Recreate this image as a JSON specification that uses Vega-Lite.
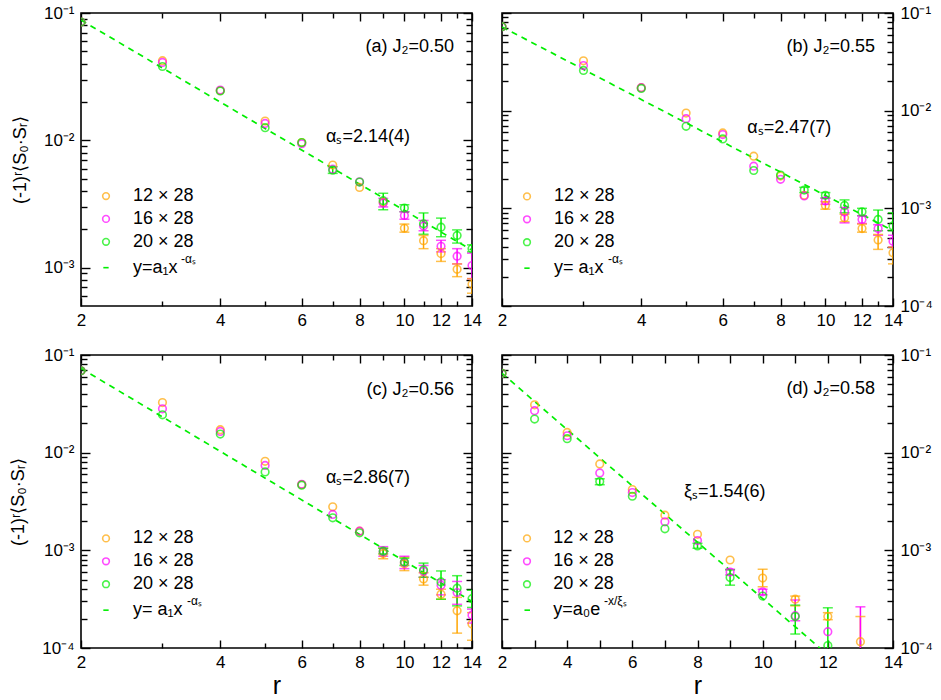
{
  "$schema": "https://vega.github.io/schema/vega-lite/v6.json",
  "padding": {"left": 8, "top": 3, "right": 4, "bottom": 4},
  "config": {
    "font": "Liberation Sans",
    "view": {"stroke": "black", "strokeWidth": 1.6},
    "range": {"category": ["#ffa500", "#ff00ff", "#00ee00"]},
    "legend": {"disable": true},
    "axis": {
      "domain": false, "grid": false, "tickColor": "black", "tickWidth": 1.4,
      "labelColor": "black", "labelFontSize": 17, "labelFlush": false, "labelOverlap": false,
      "labelBound": false, "titleFontWeight": "normal", "titleColor": "black", "zindex": 1
    },
    "text": {"fontSize": 18, "color": "black", "baseline": "middle"}
  },
  "datasets": {
    "fit": [
      {"p": "a", "r": 2, "v": 0.088}, {"p": "a", "r": 14, "v": 0.00137},
      {"p": "b", "r": 2, "v": 0.072}, {"p": "b", "r": 14, "v": 0.00059},
      {"p": "c", "r": 2, "v": 0.073}, {"p": "c", "r": 14, "v": 0.0003},
      {"p": "d", "r": 2, "v": 0.065}, {"p": "d", "r": 14, "v": 0.0000225}
    ],
    "pts": [
      {"p": "a", "s": "12 × 28", "r": 2, "v": 0.085},
      {"p": "a", "s": "12 × 28", "r": 3, "v": 0.0422},
      {"p": "a", "s": "12 × 28", "r": 4, "v": 0.0246},
      {"p": "a", "s": "12 × 28", "r": 5, "v": 0.01416},
      {"p": "a", "s": "12 × 28", "r": 6, "v": 0.0096},
      {"p": "a", "s": "12 × 28", "r": 7, "v": 0.0064},
      {"p": "a", "s": "12 × 28", "r": 8, "v": 0.00427},
      {"p": "a", "s": "12 × 28", "r": 9, "v": 0.00326},
      {"p": "a", "s": "12 × 28", "r": 10, "v": 0.00204, "lo": 0.0019, "hi": 0.0022},
      {"p": "a", "s": "12 × 28", "r": 11, "v": 0.00163, "lo": 0.00141, "hi": 0.00179},
      {"p": "a", "s": "12 × 28", "r": 12, "v": 0.00129, "lo": 0.00112, "hi": 0.00141},
      {"p": "a", "s": "12 × 28", "r": 13, "v": 0.00097, "lo": 0.00085, "hi": 0.00107},
      {"p": "a", "s": "12 × 28", "r": 14, "v": 0.00074, "lo": 0.00063, "hi": 0.00082},
      {"p": "a", "s": "16 × 28", "r": 2, "v": 0.085},
      {"p": "a", "s": "16 × 28", "r": 3, "v": 0.0409},
      {"p": "a", "s": "16 × 28", "r": 4, "v": 0.0248},
      {"p": "a", "s": "16 × 28", "r": 5, "v": 0.01358},
      {"p": "a", "s": "16 × 28", "r": 6, "v": 0.0094},
      {"p": "a", "s": "16 × 28", "r": 7, "v": 0.00593},
      {"p": "a", "s": "16 × 28", "r": 8, "v": 0.00472},
      {"p": "a", "s": "16 × 28", "r": 9, "v": 0.00322, "lo": 0.003, "hi": 0.0035},
      {"p": "a", "s": "16 × 28", "r": 10, "v": 0.00257, "lo": 0.0024, "hi": 0.00275},
      {"p": "a", "s": "16 × 28", "r": 11, "v": 0.00212, "lo": 0.00195, "hi": 0.00235},
      {"p": "a", "s": "16 × 28", "r": 12, "v": 0.00147, "lo": 0.00133, "hi": 0.00164},
      {"p": "a", "s": "16 × 28", "r": 13, "v": 0.00123, "lo": 0.00107, "hi": 0.00141},
      {"p": "a", "s": "16 × 28", "r": 14, "v": 0.00104, "lo": 0.00082, "hi": 0.0013},
      {"p": "a", "s": "20 × 28", "r": 2, "v": 0.085},
      {"p": "a", "s": "20 × 28", "r": 3, "v": 0.038},
      {"p": "a", "s": "20 × 28", "r": 4, "v": 0.0244},
      {"p": "a", "s": "20 × 28", "r": 5, "v": 0.01256},
      {"p": "a", "s": "20 × 28", "r": 6, "v": 0.0096},
      {"p": "a", "s": "20 × 28", "r": 7, "v": 0.00583, "lo": 0.0055, "hi": 0.0062},
      {"p": "a", "s": "20 × 28", "r": 8, "v": 0.0047},
      {"p": "a", "s": "20 × 28", "r": 9, "v": 0.00336, "lo": 0.00285, "hi": 0.00384},
      {"p": "a", "s": "20 × 28", "r": 10, "v": 0.00294, "lo": 0.00275, "hi": 0.00312},
      {"p": "a", "s": "20 × 28", "r": 11, "v": 0.00221, "lo": 0.00183, "hi": 0.00269},
      {"p": "a", "s": "20 × 28", "r": 12, "v": 0.00208, "lo": 0.00175, "hi": 0.00245},
      {"p": "a", "s": "20 × 28", "r": 13, "v": 0.00179, "lo": 0.00156, "hi": 0.00198},
      {"p": "a", "s": "20 × 28", "r": 14, "v": 0.00141, "lo": 0.00133, "hi": 0.00151},

      {"p": "b", "s": "12 × 28", "r": 2, "v": 0.0724},
      {"p": "b", "s": "12 × 28", "r": 3, "v": 0.0324},
      {"p": "b", "s": "12 × 28", "r": 4, "v": 0.0172},
      {"p": "b", "s": "12 × 28", "r": 5, "v": 0.00946},
      {"p": "b", "s": "12 × 28", "r": 6, "v": 0.00591},
      {"p": "b", "s": "12 × 28", "r": 7, "v": 0.00342},
      {"p": "b", "s": "12 × 28", "r": 8, "v": 0.00214},
      {"p": "b", "s": "12 × 28", "r": 9, "v": 0.00136},
      {"p": "b", "s": "12 × 28", "r": 10, "v": 0.00107, "lo": 0.00098, "hi": 0.00117},
      {"p": "b", "s": "12 × 28", "r": 11, "v": 0.0008, "lo": 0.00073, "hi": 0.00087},
      {"p": "b", "s": "12 × 28", "r": 12, "v": 0.00062, "lo": 0.00057, "hi": 0.00069},
      {"p": "b", "s": "12 × 28", "r": 13, "v": 0.000475, "lo": 0.00038, "hi": 0.00054},
      {"p": "b", "s": "12 × 28", "r": 14, "v": 0.00035, "lo": 0.00027, "hi": 0.0004},
      {"p": "b", "s": "16 × 28", "r": 2, "v": 0.0724},
      {"p": "b", "s": "16 × 28", "r": 3, "v": 0.029},
      {"p": "b", "s": "16 × 28", "r": 4, "v": 0.0172},
      {"p": "b", "s": "16 × 28", "r": 5, "v": 0.00828},
      {"p": "b", "s": "16 × 28", "r": 6, "v": 0.00569},
      {"p": "b", "s": "16 × 28", "r": 7, "v": 0.0027},
      {"p": "b", "s": "16 × 28", "r": 8, "v": 0.00198},
      {"p": "b", "s": "16 × 28", "r": 9, "v": 0.00134},
      {"p": "b", "s": "16 × 28", "r": 10, "v": 0.00119, "lo": 0.0011, "hi": 0.00128},
      {"p": "b", "s": "16 × 28", "r": 11, "v": 0.00092, "lo": 0.00071, "hi": 0.00102},
      {"p": "b", "s": "16 × 28", "r": 12, "v": 0.00077, "lo": 0.0007, "hi": 0.00084},
      {"p": "b", "s": "16 × 28", "r": 13, "v": 0.00062, "lo": 0.00053, "hi": 0.00068},
      {"p": "b", "s": "16 × 28", "r": 14, "v": 0.00046, "lo": 0.0004, "hi": 0.00053},
      {"p": "b", "s": "20 × 28", "r": 2, "v": 0.0724},
      {"p": "b", "s": "20 × 28", "r": 3, "v": 0.0258},
      {"p": "b", "s": "20 × 28", "r": 4, "v": 0.0169},
      {"p": "b", "s": "20 × 28", "r": 5, "v": 0.00692},
      {"p": "b", "s": "20 × 28", "r": 6, "v": 0.00514},
      {"p": "b", "s": "20 × 28", "r": 7, "v": 0.00244},
      {"p": "b", "s": "20 × 28", "r": 8, "v": 0.00219},
      {"p": "b", "s": "20 × 28", "r": 9, "v": 0.00154, "lo": 0.00145, "hi": 0.00164},
      {"p": "b", "s": "20 × 28", "r": 10, "v": 0.00136, "lo": 0.00127, "hi": 0.00145},
      {"p": "b", "s": "20 × 28", "r": 11, "v": 0.00107, "lo": 0.0009, "hi": 0.00122},
      {"p": "b", "s": "20 × 28", "r": 12, "v": 0.00092, "lo": 0.00084, "hi": 0.001},
      {"p": "b", "s": "20 × 28", "r": 13, "v": 0.00077, "lo": 0.00059, "hi": 0.00096},
      {"p": "b", "s": "20 × 28", "r": 14, "v": 0.00066, "lo": 0.00059, "hi": 0.0009},

      {"p": "c", "s": "12 × 28", "r": 2, "v": 0.069},
      {"p": "c", "s": "12 × 28", "r": 3, "v": 0.0326},
      {"p": "c", "s": "12 × 28", "r": 4, "v": 0.0172},
      {"p": "c", "s": "12 × 28", "r": 5, "v": 0.00815},
      {"p": "c", "s": "12 × 28", "r": 6, "v": 0.00471},
      {"p": "c", "s": "12 × 28", "r": 7, "v": 0.00279},
      {"p": "c", "s": "12 × 28", "r": 8, "v": 0.00157},
      {"p": "c", "s": "12 × 28", "r": 9, "v": 0.00093, "lo": 0.00082, "hi": 0.00105},
      {"p": "c", "s": "12 × 28", "r": 10, "v": 0.00073, "lo": 0.00062, "hi": 0.00085},
      {"p": "c", "s": "12 × 28", "r": 11, "v": 0.00051, "lo": 0.00044, "hi": 0.00059},
      {"p": "c", "s": "12 × 28", "r": 12, "v": 0.000356, "lo": 0.000316, "hi": 0.0004},
      {"p": "c", "s": "12 × 28", "r": 13, "v": 0.00024, "lo": 0.000142, "hi": 0.00033},
      {"p": "c", "s": "12 × 28", "r": 14, "v": 0.000176, "lo": 0.00012, "hi": 0.00023},
      {"p": "c", "s": "16 × 28", "r": 2, "v": 0.069},
      {"p": "c", "s": "16 × 28", "r": 3, "v": 0.0281},
      {"p": "c", "s": "16 × 28", "r": 4, "v": 0.0165},
      {"p": "c", "s": "16 × 28", "r": 5, "v": 0.0074},
      {"p": "c", "s": "16 × 28", "r": 6, "v": 0.00475},
      {"p": "c", "s": "16 × 28", "r": 7, "v": 0.00233},
      {"p": "c", "s": "16 × 28", "r": 8, "v": 0.00157},
      {"p": "c", "s": "16 × 28", "r": 9, "v": 0.00097, "lo": 0.00087, "hi": 0.00109},
      {"p": "c", "s": "16 × 28", "r": 10, "v": 0.00075, "lo": 0.00065, "hi": 0.00087},
      {"p": "c", "s": "16 × 28", "r": 11, "v": 0.00061, "lo": 0.00053, "hi": 0.0007},
      {"p": "c", "s": "16 × 28", "r": 12, "v": 0.00044, "lo": 0.00035, "hi": 0.0005},
      {"p": "c", "s": "16 × 28", "r": 13, "v": 0.00037, "lo": 0.00028, "hi": 0.00048},
      {"p": "c", "s": "16 × 28", "r": 14, "v": 0.000217, "lo": 0.00018, "hi": 0.00025},
      {"p": "c", "s": "20 × 28", "r": 2, "v": 0.069},
      {"p": "c", "s": "20 × 28", "r": 3, "v": 0.0244},
      {"p": "c", "s": "20 × 28", "r": 4, "v": 0.0155},
      {"p": "c", "s": "20 × 28", "r": 5, "v": 0.00635},
      {"p": "c", "s": "20 × 28", "r": 6, "v": 0.00465},
      {"p": "c", "s": "20 × 28", "r": 7, "v": 0.00215},
      {"p": "c", "s": "20 × 28", "r": 8, "v": 0.00151},
      {"p": "c", "s": "20 × 28", "r": 9, "v": 0.00098, "lo": 0.00092, "hi": 0.00105},
      {"p": "c", "s": "20 × 28", "r": 10, "v": 0.00076, "lo": 0.0007, "hi": 0.00083},
      {"p": "c", "s": "20 × 28", "r": 11, "v": 0.00063, "lo": 0.00053, "hi": 0.00074},
      {"p": "c", "s": "20 × 28", "r": 12, "v": 0.000475, "lo": 0.000316, "hi": 0.000615},
      {"p": "c", "s": "20 × 28", "r": 13, "v": 0.00041, "lo": 0.00027, "hi": 0.00055},
      {"p": "c", "s": "20 × 28", "r": 14, "v": 0.00032, "lo": 0.00026, "hi": 0.00039},

      {"p": "d", "s": "12 × 28", "r": 2, "v": 0.065},
      {"p": "d", "s": "12 × 28", "r": 3, "v": 0.0309},
      {"p": "d", "s": "12 × 28", "r": 4, "v": 0.0161},
      {"p": "d", "s": "12 × 28", "r": 5, "v": 0.00766},
      {"p": "d", "s": "12 × 28", "r": 6, "v": 0.00419},
      {"p": "d", "s": "12 × 28", "r": 7, "v": 0.00229},
      {"p": "d", "s": "12 × 28", "r": 8, "v": 0.00146},
      {"p": "d", "s": "12 × 28", "r": 9, "v": 0.000796},
      {"p": "d", "s": "12 × 28", "r": 10, "v": 0.00052, "lo": 0.000425, "hi": 0.00064},
      {"p": "d", "s": "12 × 28", "r": 11, "v": 0.000316, "lo": 0.00027, "hi": 0.00034},
      {"p": "d", "s": "12 × 28", "r": 12, "v": 0.00021, "lo": 0.000195, "hi": 0.00023},
      {"p": "d", "s": "12 × 28", "r": 13, "v": 0.000116, "lo": 0.00005, "hi": 0.00021},
      {"p": "d", "s": "16 × 28", "r": 2, "v": 0.065},
      {"p": "d", "s": "16 × 28", "r": 3, "v": 0.0269},
      {"p": "d", "s": "16 × 28", "r": 4, "v": 0.0149},
      {"p": "d", "s": "16 × 28", "r": 5, "v": 0.0062},
      {"p": "d", "s": "16 × 28", "r": 6, "v": 0.0039},
      {"p": "d", "s": "16 × 28", "r": 7, "v": 0.00196},
      {"p": "d", "s": "16 × 28", "r": 8, "v": 0.00126},
      {"p": "d", "s": "16 × 28", "r": 9, "v": 0.0006, "lo": 0.00056, "hi": 0.00064},
      {"p": "d", "s": "16 × 28", "r": 10, "v": 0.000376, "lo": 0.00035, "hi": 0.0004},
      {"p": "d", "s": "16 × 28", "r": 11, "v": 0.000214, "lo": 0.00019, "hi": 0.00031},
      {"p": "d", "s": "16 × 28", "r": 12, "v": 0.000147},
      {"p": "d", "s": "16 × 28", "r": 13, "v": 0.00006, "lo": 0.00001, "hi": 0.000264},
      {"p": "d", "s": "20 × 28", "r": 2, "v": 0.065},
      {"p": "d", "s": "20 × 28", "r": 3, "v": 0.0221},
      {"p": "d", "s": "20 × 28", "r": 4, "v": 0.0139},
      {"p": "d", "s": "20 × 28", "r": 5, "v": 0.00506, "lo": 0.0047, "hi": 0.0054},
      {"p": "d", "s": "20 × 28", "r": 6, "v": 0.00358},
      {"p": "d", "s": "20 × 28", "r": 7, "v": 0.00166},
      {"p": "d", "s": "20 × 28", "r": 8, "v": 0.00111, "lo": 0.00105, "hi": 0.00118},
      {"p": "d", "s": "20 × 28", "r": 9, "v": 0.000526, "lo": 0.00044, "hi": 0.00063},
      {"p": "d", "s": "20 × 28", "r": 10, "v": 0.00034},
      {"p": "d", "s": "20 × 28", "r": 11, "v": 0.00021, "lo": 0.000139, "hi": 0.000275},
      {"p": "d", "s": "20 × 28", "r": 12, "v": 0.000106, "lo": 0.00004, "hi": 0.000258}
    ],
    "ann": [
      {"p": "a", "k": "c", "s": "12 × 28", "r": 2.265, "v": 0.00365},
      {"p": "a", "k": "c", "s": "16 × 28", "r": 2.265, "v": 0.002415},
      {"p": "a", "k": "c", "s": "20 × 28", "r": 2.265, "v": 0.001596},
      {"p": "a", "k": "d", "r": 2.235, "r2": 2.295, "v": 0.001},
      {"p": "a", "k": "t", "r": 2.59, "v": 0.00365, "t": "12 × 28"},
      {"p": "a", "k": "t", "r": 2.59, "v": 0.002415, "t": "16 × 28"},
      {"p": "a", "k": "t", "r": 2.59, "v": 0.001596, "t": "20 × 28"},
      {"p": "a", "k": "t", "r": 2.59, "v": 0.001, "t": "y=a₁x"},
      {"p": "a", "k": "s", "r": 3.29, "v": 0.001, "t": "-αₛ"},
      {"p": "a", "k": "R", "r": 12.8, "v": 0.05425, "t": "(a) J₂=0.50"},
      {"p": "a", "k": "t", "r": 6.77, "v": 0.01055, "t": "αₛ=2.14(4)"},

      {"p": "b", "k": "c", "s": "12 × 28", "r": 2.265, "v": 0.001324},
      {"p": "b", "k": "c", "s": "16 × 28", "r": 2.265, "v": 0.000772},
      {"p": "b", "k": "c", "s": "20 × 28", "r": 2.265, "v": 0.00045},
      {"p": "b", "k": "d", "r": 2.235, "r2": 2.295, "v": 0.000244},
      {"p": "b", "k": "t", "r": 2.59, "v": 0.001324, "t": "12 × 28"},
      {"p": "b", "k": "t", "r": 2.59, "v": 0.000772, "t": "16 × 28"},
      {"p": "b", "k": "t", "r": 2.59, "v": 0.00045, "t": "20 × 28"},
      {"p": "b", "k": "t", "r": 2.59, "v": 0.000244, "t": "y= a₁x"},
      {"p": "b", "k": "s", "r": 3.39, "v": 0.000244, "t": "-αₛ"},
      {"p": "b", "k": "R", "r": 12.8, "v": 0.045, "t": "(b) J₂=0.55"},
      {"p": "b", "k": "t", "r": 6.78, "v": 0.00671, "t": "αₛ=2.47(7)"},

      {"p": "c", "k": "c", "s": "12 × 28", "r": 2.265, "v": 0.001324},
      {"p": "c", "k": "c", "s": "16 × 28", "r": 2.265, "v": 0.000772},
      {"p": "c", "k": "c", "s": "20 × 28", "r": 2.265, "v": 0.00045},
      {"p": "c", "k": "d", "r": 2.235, "r2": 2.295, "v": 0.000244},
      {"p": "c", "k": "t", "r": 2.59, "v": 0.001324, "t": "12 × 28"},
      {"p": "c", "k": "t", "r": 2.59, "v": 0.000772, "t": "16 × 28"},
      {"p": "c", "k": "t", "r": 2.59, "v": 0.00045, "t": "20 × 28"},
      {"p": "c", "k": "t", "r": 2.59, "v": 0.000244, "t": "y= a₁x"},
      {"p": "c", "k": "s", "r": 3.39, "v": 0.000244, "t": "-αₛ"},
      {"p": "c", "k": "R", "r": 12.8, "v": 0.044, "t": "(c) J₂=0.56"},
      {"p": "c", "k": "t", "r": 6.77, "v": 0.00556, "t": "αₛ=2.86(7)"},

      {"p": "d", "k": "c", "s": "12 × 28", "r": 2.767, "v": 0.001324},
      {"p": "d", "k": "c", "s": "16 × 28", "r": 2.767, "v": 0.000772},
      {"p": "d", "k": "c", "s": "20 × 28", "r": 2.767, "v": 0.00045},
      {"p": "d", "k": "d", "r": 2.69, "r2": 2.86, "v": 0.000244},
      {"p": "d", "k": "t", "r": 3.57, "v": 0.001324, "t": "12 × 28"},
      {"p": "d", "k": "t", "r": 3.57, "v": 0.000772, "t": "16 × 28"},
      {"p": "d", "k": "t", "r": 3.57, "v": 0.00045, "t": "20 × 28"},
      {"p": "d", "k": "t", "r": 3.57, "v": 0.000244, "t": "y=a₀e"},
      {"p": "d", "k": "s", "r": 5.13, "v": 0.000244, "t": "-x/ξₛ"},
      {"p": "d", "k": "R", "r": 13.45, "v": 0.045, "t": "(d) J₂=0.58"},
      {"p": "d", "k": "t", "r": 7.586, "v": 0.004, "t": "ξₛ=1.54(6)"}
    ]
  },
  "concat": [
    {
      "width": 391, "height": 293,
      "resolve": {"axis": {"x": "independent", "y": "independent"}},
      "encoding": {
        "x": {"field": "r", "type": "quantitative", "scale": {"type": "log", "domain": [2, 14]}, "axis": null},
        "y": {"field": "v", "type": "quantitative", "scale": {"type": "log", "domain": [0.0005, 0.1]}, "axis": null}
      },
      "layer": [
        {
          "data": {"name": "fit"}, "transform": [{"filter": "datum.p == 'a'"}],
          "mark": {"type": "line", "stroke": "#00ee00", "strokeDash": [6, 5], "strokeWidth": 1.7, "clip": true},
          "encoding": {
            "x": {"field": "r", "type": "quantitative", "scale": {"type": "log", "domain": [2, 14]},
                  "axis": {"orient": "bottom", "values": [2, 4, 6, 8, 10, 12, 14], "format": "d", "tickSize": 8, "offset": -8, "labelPadding": 6, "title": null}},
            "y": {"field": "v", "type": "quantitative", "scale": {"type": "log", "domain": [0.0005, 0.1]},
                  "axis": {"orient": "left", "values": [0.001, 0.01, 0.1], "labelExpr": "datum.value < 0.0005 ? '10⁻⁴' : datum.value < 0.005 ? '10⁻³' : datum.value < 0.05 ? '10⁻²' : '10⁻¹'", "tickSize": 9, "offset": -9, "labelPadding": 7, "title": "(-1)ʳ⟨S₀·Sᵣ⟩", "titleFontSize": 18, "titlePadding": 14}}
          }
        },
        {
          "data": {"name": "pts"}, "transform": [{"filter": "datum.p == 'a' && isValid(datum.lo)"}],
          "mark": {"type": "rule", "strokeWidth": 1.5, "clip": true},
          "encoding": {
            "x": {"field": "r", "type": "quantitative", "scale": {"type": "log", "domain": [2, 14]},
                  "axis": {"orient": "top", "values": [2, 4, 6, 8, 10, 12, 14], "labels": false, "tickSize": 8, "offset": -8, "title": null}},
            "y": {"field": "lo", "type": "quantitative", "scale": {"type": "log", "domain": [0.0005, 0.1]},
                  "axis": {"orient": "right", "values": [0.001, 0.01, 0.1], "labels": false, "tickSize": 9, "offset": -9, "title": null}},
            "y2": {"field": "hi"},
            "color": {"field": "s", "type": "nominal"}
          }
        },
        {
          "data": {"name": "pts"}, "transform": [{"filter": "datum.p == 'a' && isValid(datum.lo)"}],
          "mark": {"type": "tick", "orient": "horizontal", "size": 10, "thickness": 1.5, "clip": true},
          "encoding": {
            "x": {"field": "r", "type": "quantitative", "scale": {"type": "log", "domain": [2, 14]},
                  "axis": {"orient": "bottom", "values": [3, 5, 7, 9, 11, 13], "labels": false, "tickSize": 5, "offset": -5, "title": null}},
            "y": {"field": "lo", "type": "quantitative", "scale": {"type": "log", "domain": [0.0005, 0.1]},
                  "axis": {"orient": "left", "values": [0.0006, 0.0007, 0.0008, 0.0009, 0.002, 0.003, 0.004, 0.005, 0.006, 0.007, 0.008, 0.009, 0.02, 0.03, 0.04, 0.05, 0.06, 0.07, 0.08, 0.09], "labels": false, "tickSize": 6, "offset": -6, "title": null}},
            "color": {"field": "s", "type": "nominal"}
          }
        },
        {
          "data": {"name": "pts"}, "transform": [{"filter": "datum.p == 'a' && isValid(datum.hi)"}],
          "mark": {"type": "tick", "orient": "horizontal", "size": 10, "thickness": 1.5, "clip": true},
          "encoding": {
            "x": {"field": "r", "type": "quantitative", "scale": {"type": "log", "domain": [2, 14]},
                  "axis": {"orient": "top", "values": [3, 5, 7, 9, 11, 13], "labels": false, "tickSize": 5, "offset": -5, "title": null}},
            "y": {"field": "hi", "type": "quantitative", "scale": {"type": "log", "domain": [0.0005, 0.1]},
                  "axis": {"orient": "right", "values": [0.0006, 0.0007, 0.0008, 0.0009, 0.002, 0.003, 0.004, 0.005, 0.006, 0.007, 0.008, 0.009, 0.02, 0.03, 0.04, 0.05, 0.06, 0.07, 0.08, 0.09], "labels": false, "tickSize": 6, "offset": -6, "title": null}},
            "color": {"field": "s", "type": "nominal"}
          }
        },
        {
          "data": {"name": "pts"}, "transform": [{"filter": "datum.p == 'a'"}],
          "mark": {"type": "point", "shape": "circle", "filled": false, "size": 58, "strokeWidth": 1.6, "clip": true},
          "encoding": {"color": {"field": "s", "type": "nominal"}}
        },
        {
          "data": {"name": "ann"}, "transform": [{"filter": "datum.p == 'a' && datum.k == 'c'"}],
          "mark": {"type": "point", "shape": "circle", "filled": false, "size": 45, "strokeWidth": 1.6},
          "encoding": {"color": {"field": "s", "type": "nominal"}}
        },
        {
          "data": {"name": "ann"}, "transform": [{"filter": "datum.p == 'a' && datum.k == 'd'"}],
          "mark": {"type": "rule", "stroke": "#00ee00", "strokeWidth": 1.6},
          "encoding": {"x2": {"field": "r2"}}
        },
        {
          "data": {"name": "ann"}, "transform": [{"filter": "datum.p == 'a' && datum.k == 't'"}],
          "mark": {"type": "text", "align": "left"},
          "encoding": {"text": {"field": "t"}}
        },
        {
          "data": {"name": "ann"}, "transform": [{"filter": "datum.p == 'a' && datum.k == 'R'"}],
          "mark": {"type": "text", "align": "right"},
          "encoding": {"text": {"field": "t"}}
        },
        {
          "data": {"name": "ann"}, "transform": [{"filter": "datum.p == 'a' && datum.k == 's'"}],
          "mark": {"type": "text", "align": "left", "fontSize": 12, "dy": -9},
          "encoding": {"text": {"field": "t"}}
        }
      ]
    },
    {
      "width": 391, "height": 293,
      "resolve": {"axis": {"x": "independent", "y": "independent"}},
      "encoding": {
        "x": {"field": "r", "type": "quantitative", "scale": {"type": "log", "domain": [2, 14]}, "axis": null},
        "y": {"field": "v", "type": "quantitative", "scale": {"type": "log", "domain": [0.0001, 0.1]}, "axis": null}
      },
      "layer": [
        {
          "data": {"name": "fit"}, "transform": [{"filter": "datum.p == 'b'"}],
          "mark": {"type": "line", "stroke": "#00ee00", "strokeDash": [6, 5], "strokeWidth": 1.7, "clip": true},
          "encoding": {
            "x": {"field": "r", "type": "quantitative", "scale": {"type": "log", "domain": [2, 14]},
                  "axis": {"orient": "bottom", "values": [2, 4, 6, 8, 10, 12, 14], "format": "d", "tickSize": 8, "offset": -8, "labelPadding": 6, "title": null}},
            "y": {"field": "v", "type": "quantitative", "scale": {"type": "log", "domain": [0.0001, 0.1]},
                  "axis": {"orient": "right", "values": [0.0001, 0.001, 0.01, 0.1], "labelExpr": "datum.value < 0.0005 ? '10⁻⁴' : datum.value < 0.005 ? '10⁻³' : datum.value < 0.05 ? '10⁻²' : '10⁻¹'", "tickSize": 9, "offset": -9, "labelPadding": 7, "title": null}}
          }
        },
        {
          "data": {"name": "pts"}, "transform": [{"filter": "datum.p == 'b' && isValid(datum.lo)"}],
          "mark": {"type": "rule", "strokeWidth": 1.5, "clip": true},
          "encoding": {
            "x": {"field": "r", "type": "quantitative", "scale": {"type": "log", "domain": [2, 14]},
                  "axis": {"orient": "top", "values": [2, 4, 6, 8, 10, 12, 14], "labels": false, "tickSize": 8, "offset": -8, "title": null}},
            "y": {"field": "lo", "type": "quantitative", "scale": {"type": "log", "domain": [0.0001, 0.1]},
                  "axis": {"orient": "left", "values": [0.0001, 0.001, 0.01, 0.1], "labels": false, "tickSize": 9, "offset": -9, "title": null}},
            "y2": {"field": "hi"},
            "color": {"field": "s", "type": "nominal"}
          }
        },
        {
          "data": {"name": "pts"}, "transform": [{"filter": "datum.p == 'b' && isValid(datum.lo)"}],
          "mark": {"type": "tick", "orient": "horizontal", "size": 10, "thickness": 1.5, "clip": true},
          "encoding": {
            "x": {"field": "r", "type": "quantitative", "scale": {"type": "log", "domain": [2, 14]},
                  "axis": {"orient": "bottom", "values": [3, 5, 7, 9, 11, 13], "labels": false, "tickSize": 5, "offset": -5, "title": null}},
            "y": {"field": "lo", "type": "quantitative", "scale": {"type": "log", "domain": [0.0001, 0.1]},
                  "axis": {"orient": "left", "values": [0.0002, 0.0003, 0.0004, 0.0005, 0.0006, 0.0007, 0.0008, 0.0009, 0.002, 0.003, 0.004, 0.005, 0.006, 0.007, 0.008, 0.009, 0.02, 0.03, 0.04, 0.05, 0.06, 0.07, 0.08, 0.09], "labels": false, "tickSize": 6, "offset": -6, "title": null}},
            "color": {"field": "s", "type": "nominal"}
          }
        },
        {
          "data": {"name": "pts"}, "transform": [{"filter": "datum.p == 'b' && isValid(datum.hi)"}],
          "mark": {"type": "tick", "orient": "horizontal", "size": 10, "thickness": 1.5, "clip": true},
          "encoding": {
            "x": {"field": "r", "type": "quantitative", "scale": {"type": "log", "domain": [2, 14]},
                  "axis": {"orient": "top", "values": [3, 5, 7, 9, 11, 13], "labels": false, "tickSize": 5, "offset": -5, "title": null}},
            "y": {"field": "hi", "type": "quantitative", "scale": {"type": "log", "domain": [0.0001, 0.1]},
                  "axis": {"orient": "right", "values": [0.0002, 0.0003, 0.0004, 0.0005, 0.0006, 0.0007, 0.0008, 0.0009, 0.002, 0.003, 0.004, 0.005, 0.006, 0.007, 0.008, 0.009, 0.02, 0.03, 0.04, 0.05, 0.06, 0.07, 0.08, 0.09], "labels": false, "tickSize": 6, "offset": -6, "title": null}},
            "color": {"field": "s", "type": "nominal"}
          }
        },
        {
          "data": {"name": "pts"}, "transform": [{"filter": "datum.p == 'b'"}],
          "mark": {"type": "point", "shape": "circle", "filled": false, "size": 58, "strokeWidth": 1.6, "clip": true},
          "encoding": {"color": {"field": "s", "type": "nominal"}}
        },
        {
          "data": {"name": "ann"}, "transform": [{"filter": "datum.p == 'b' && datum.k == 'c'"}],
          "mark": {"type": "point", "shape": "circle", "filled": false, "size": 45, "strokeWidth": 1.6},
          "encoding": {"color": {"field": "s", "type": "nominal"}}
        },
        {
          "data": {"name": "ann"}, "transform": [{"filter": "datum.p == 'b' && datum.k == 'd'"}],
          "mark": {"type": "rule", "stroke": "#00ee00", "strokeWidth": 1.6},
          "encoding": {"x2": {"field": "r2"}}
        },
        {
          "data": {"name": "ann"}, "transform": [{"filter": "datum.p == 'b' && datum.k == 't'"}],
          "mark": {"type": "text", "align": "left"},
          "encoding": {"text": {"field": "t"}}
        },
        {
          "data": {"name": "ann"}, "transform": [{"filter": "datum.p == 'b' && datum.k == 'R'"}],
          "mark": {"type": "text", "align": "right"},
          "encoding": {"text": {"field": "t"}}
        },
        {
          "data": {"name": "ann"}, "transform": [{"filter": "datum.p == 'b' && datum.k == 's'"}],
          "mark": {"type": "text", "align": "left", "fontSize": 12, "dy": -9},
          "encoding": {"text": {"field": "t"}}
        }
      ]
    },
    {
      "width": 391, "height": 293,
      "resolve": {"axis": {"x": "independent", "y": "independent"}},
      "encoding": {
        "x": {"field": "r", "type": "quantitative", "scale": {"type": "log", "domain": [2, 14]}, "axis": null},
        "y": {"field": "v", "type": "quantitative", "scale": {"type": "log", "domain": [0.0001, 0.1]}, "axis": null}
      },
      "layer": [
        {
          "data": {"name": "fit"}, "transform": [{"filter": "datum.p == 'c'"}],
          "mark": {"type": "line", "stroke": "#00ee00", "strokeDash": [6, 5], "strokeWidth": 1.7, "clip": true},
          "encoding": {
            "x": {"field": "r", "type": "quantitative", "scale": {"type": "log", "domain": [2, 14]},
                  "axis": {"orient": "bottom", "values": [2, 4, 6, 8, 10, 12, 14], "format": "d", "tickSize": 8, "offset": -8, "labelPadding": 6, "title": "r", "titleFontSize": 25, "titlePadding": 3}},
            "y": {"field": "v", "type": "quantitative", "scale": {"type": "log", "domain": [0.0001, 0.1]},
                  "axis": {"orient": "left", "values": [0.0001, 0.001, 0.01, 0.1], "labelExpr": "datum.value < 0.0005 ? '10⁻⁴' : datum.value < 0.005 ? '10⁻³' : datum.value < 0.05 ? '10⁻²' : '10⁻¹'", "tickSize": 9, "offset": -9, "labelPadding": 7, "title": "(-1)ʳ⟨S₀·Sᵣ⟩", "titleFontSize": 18, "titlePadding": 14}}
          }
        },
        {
          "data": {"name": "pts"}, "transform": [{"filter": "datum.p == 'c' && isValid(datum.lo)"}],
          "mark": {"type": "rule", "strokeWidth": 1.5, "clip": true},
          "encoding": {
            "x": {"field": "r", "type": "quantitative", "scale": {"type": "log", "domain": [2, 14]},
                  "axis": {"orient": "top", "values": [2, 4, 6, 8, 10, 12, 14], "labels": false, "tickSize": 8, "offset": -8, "title": null}},
            "y": {"field": "lo", "type": "quantitative", "scale": {"type": "log", "domain": [0.0001, 0.1]},
                  "axis": {"orient": "right", "values": [0.0001, 0.001, 0.01, 0.1], "labels": false, "tickSize": 9, "offset": -9, "title": null}},
            "y2": {"field": "hi"},
            "color": {"field": "s", "type": "nominal"}
          }
        },
        {
          "data": {"name": "pts"}, "transform": [{"filter": "datum.p == 'c' && isValid(datum.lo)"}],
          "mark": {"type": "tick", "orient": "horizontal", "size": 10, "thickness": 1.5, "clip": true},
          "encoding": {
            "x": {"field": "r", "type": "quantitative", "scale": {"type": "log", "domain": [2, 14]},
                  "axis": {"orient": "bottom", "values": [3, 5, 7, 9, 11, 13], "labels": false, "tickSize": 5, "offset": -5, "title": null}},
            "y": {"field": "lo", "type": "quantitative", "scale": {"type": "log", "domain": [0.0001, 0.1]},
                  "axis": {"orient": "left", "values": [0.0002, 0.0003, 0.0004, 0.0005, 0.0006, 0.0007, 0.0008, 0.0009, 0.002, 0.003, 0.004, 0.005, 0.006, 0.007, 0.008, 0.009, 0.02, 0.03, 0.04, 0.05, 0.06, 0.07, 0.08, 0.09], "labels": false, "tickSize": 6, "offset": -6, "title": null}},
            "color": {"field": "s", "type": "nominal"}
          }
        },
        {
          "data": {"name": "pts"}, "transform": [{"filter": "datum.p == 'c' && isValid(datum.hi)"}],
          "mark": {"type": "tick", "orient": "horizontal", "size": 10, "thickness": 1.5, "clip": true},
          "encoding": {
            "x": {"field": "r", "type": "quantitative", "scale": {"type": "log", "domain": [2, 14]},
                  "axis": {"orient": "top", "values": [3, 5, 7, 9, 11, 13], "labels": false, "tickSize": 5, "offset": -5, "title": null}},
            "y": {"field": "hi", "type": "quantitative", "scale": {"type": "log", "domain": [0.0001, 0.1]},
                  "axis": {"orient": "right", "values": [0.0002, 0.0003, 0.0004, 0.0005, 0.0006, 0.0007, 0.0008, 0.0009, 0.002, 0.003, 0.004, 0.005, 0.006, 0.007, 0.008, 0.009, 0.02, 0.03, 0.04, 0.05, 0.06, 0.07, 0.08, 0.09], "labels": false, "tickSize": 6, "offset": -6, "title": null}},
            "color": {"field": "s", "type": "nominal"}
          }
        },
        {
          "data": {"name": "pts"}, "transform": [{"filter": "datum.p == 'c'"}],
          "mark": {"type": "point", "shape": "circle", "filled": false, "size": 58, "strokeWidth": 1.6, "clip": true},
          "encoding": {"color": {"field": "s", "type": "nominal"}}
        },
        {
          "data": {"name": "ann"}, "transform": [{"filter": "datum.p == 'c' && datum.k == 'c'"}],
          "mark": {"type": "point", "shape": "circle", "filled": false, "size": 45, "strokeWidth": 1.6},
          "encoding": {"color": {"field": "s", "type": "nominal"}}
        },
        {
          "data": {"name": "ann"}, "transform": [{"filter": "datum.p == 'c' && datum.k == 'd'"}],
          "mark": {"type": "rule", "stroke": "#00ee00", "strokeWidth": 1.6},
          "encoding": {"x2": {"field": "r2"}}
        },
        {
          "data": {"name": "ann"}, "transform": [{"filter": "datum.p == 'c' && datum.k == 't'"}],
          "mark": {"type": "text", "align": "left"},
          "encoding": {"text": {"field": "t"}}
        },
        {
          "data": {"name": "ann"}, "transform": [{"filter": "datum.p == 'c' && datum.k == 'R'"}],
          "mark": {"type": "text", "align": "right"},
          "encoding": {"text": {"field": "t"}}
        },
        {
          "data": {"name": "ann"}, "transform": [{"filter": "datum.p == 'c' && datum.k == 's'"}],
          "mark": {"type": "text", "align": "left", "fontSize": 12, "dy": -9},
          "encoding": {"text": {"field": "t"}}
        }
      ]
    },
    {
      "width": 391, "height": 293,
      "resolve": {"axis": {"x": "independent", "y": "independent"}},
      "encoding": {
        "x": {"field": "r", "type": "quantitative", "scale": {"domain": [2, 14], "zero": false}, "axis": null},
        "y": {"field": "v", "type": "quantitative", "scale": {"type": "log", "domain": [0.0001, 0.1]}, "axis": null}
      },
      "layer": [
        {
          "data": {"name": "fit"}, "transform": [{"filter": "datum.p == 'd'"}],
          "mark": {"type": "line", "stroke": "#00ee00", "strokeDash": [6, 5], "strokeWidth": 1.7, "clip": true},
          "encoding": {
            "x": {"field": "r", "type": "quantitative", "scale": {"domain": [2, 14], "zero": false},
                  "axis": {"orient": "bottom", "values": [2, 4, 6, 8, 10, 12, 14], "format": "d", "tickSize": 8, "offset": -8, "labelPadding": 6, "title": "r", "titleFontSize": 25, "titlePadding": 3}},
            "y": {"field": "v", "type": "quantitative", "scale": {"type": "log", "domain": [0.0001, 0.1]},
                  "axis": {"orient": "right", "values": [0.0001, 0.001, 0.01, 0.1], "labelExpr": "datum.value < 0.0005 ? '10⁻⁴' : datum.value < 0.005 ? '10⁻³' : datum.value < 0.05 ? '10⁻²' : '10⁻¹'", "tickSize": 9, "offset": -9, "labelPadding": 7, "title": null}}
          }
        },
        {
          "data": {"name": "pts"}, "transform": [{"filter": "datum.p == 'd' && isValid(datum.lo)"}],
          "mark": {"type": "rule", "strokeWidth": 1.5, "clip": true},
          "encoding": {
            "x": {"field": "r", "type": "quantitative", "scale": {"domain": [2, 14], "zero": false},
                  "axis": {"orient": "top", "values": [2, 4, 6, 8, 10, 12, 14], "labels": false, "tickSize": 8, "offset": -8, "title": null}},
            "y": {"field": "lo", "type": "quantitative", "scale": {"type": "log", "domain": [0.0001, 0.1]},
                  "axis": {"orient": "left", "values": [0.0001, 0.001, 0.01, 0.1], "labels": false, "tickSize": 9, "offset": -9, "title": null}},
            "y2": {"field": "hi"},
            "color": {"field": "s", "type": "nominal"}
          }
        },
        {
          "data": {"name": "pts"}, "transform": [{"filter": "datum.p == 'd' && isValid(datum.lo)"}],
          "mark": {"type": "tick", "orient": "horizontal", "size": 10, "thickness": 1.5, "clip": true},
          "encoding": {
            "x": {"field": "r", "type": "quantitative", "scale": {"domain": [2, 14], "zero": false},
                  "axis": {"orient": "bottom", "values": [3, 5, 7, 9, 11, 13], "labels": false, "tickSize": 8, "offset": -8, "title": null}},
            "y": {"field": "lo", "type": "quantitative", "scale": {"type": "log", "domain": [0.0001, 0.1]},
                  "axis": {"orient": "left", "values": [0.0002, 0.0003, 0.0004, 0.0005, 0.0006, 0.0007, 0.0008, 0.0009, 0.002, 0.003, 0.004, 0.005, 0.006, 0.007, 0.008, 0.009, 0.02, 0.03, 0.04, 0.05, 0.06, 0.07, 0.08, 0.09], "labels": false, "tickSize": 6, "offset": -6, "title": null}},
            "color": {"field": "s", "type": "nominal"}
          }
        },
        {
          "data": {"name": "pts"}, "transform": [{"filter": "datum.p == 'd' && isValid(datum.hi)"}],
          "mark": {"type": "tick", "orient": "horizontal", "size": 10, "thickness": 1.5, "clip": true},
          "encoding": {
            "x": {"field": "r", "type": "quantitative", "scale": {"domain": [2, 14], "zero": false},
                  "axis": {"orient": "top", "values": [3, 5, 7, 9, 11, 13], "labels": false, "tickSize": 8, "offset": -8, "title": null}},
            "y": {"field": "hi", "type": "quantitative", "scale": {"type": "log", "domain": [0.0001, 0.1]},
                  "axis": {"orient": "right", "values": [0.0002, 0.0003, 0.0004, 0.0005, 0.0006, 0.0007, 0.0008, 0.0009, 0.002, 0.003, 0.004, 0.005, 0.006, 0.007, 0.008, 0.009, 0.02, 0.03, 0.04, 0.05, 0.06, 0.07, 0.08, 0.09], "labels": false, "tickSize": 6, "offset": -6, "title": null}},
            "color": {"field": "s", "type": "nominal"}
          }
        },
        {
          "data": {"name": "pts"}, "transform": [{"filter": "datum.p == 'd'"}],
          "mark": {"type": "point", "shape": "circle", "filled": false, "size": 58, "strokeWidth": 1.6, "clip": true},
          "encoding": {"color": {"field": "s", "type": "nominal"}}
        },
        {
          "data": {"name": "ann"}, "transform": [{"filter": "datum.p == 'd' && datum.k == 'c'"}],
          "mark": {"type": "point", "shape": "circle", "filled": false, "size": 45, "strokeWidth": 1.6},
          "encoding": {"color": {"field": "s", "type": "nominal"}}
        },
        {
          "data": {"name": "ann"}, "transform": [{"filter": "datum.p == 'd' && datum.k == 'd'"}],
          "mark": {"type": "rule", "stroke": "#00ee00", "strokeWidth": 1.6},
          "encoding": {"x2": {"field": "r2"}}
        },
        {
          "data": {"name": "ann"}, "transform": [{"filter": "datum.p == 'd' && datum.k == 't'"}],
          "mark": {"type": "text", "align": "left"},
          "encoding": {"text": {"field": "t"}}
        },
        {
          "data": {"name": "ann"}, "transform": [{"filter": "datum.p == 'd' && datum.k == 'R'"}],
          "mark": {"type": "text", "align": "right"},
          "encoding": {"text": {"field": "t"}}
        },
        {
          "data": {"name": "ann"}, "transform": [{"filter": "datum.p == 'd' && datum.k == 's'"}],
          "mark": {"type": "text", "align": "left", "fontSize": 12, "dy": -9},
          "encoding": {"text": {"field": "t"}}
        }
      ]
    }
  ],
  "columns": 2,
  "spacing": {"row": 49, "column": 30},
  "bounds": "flush"
}
